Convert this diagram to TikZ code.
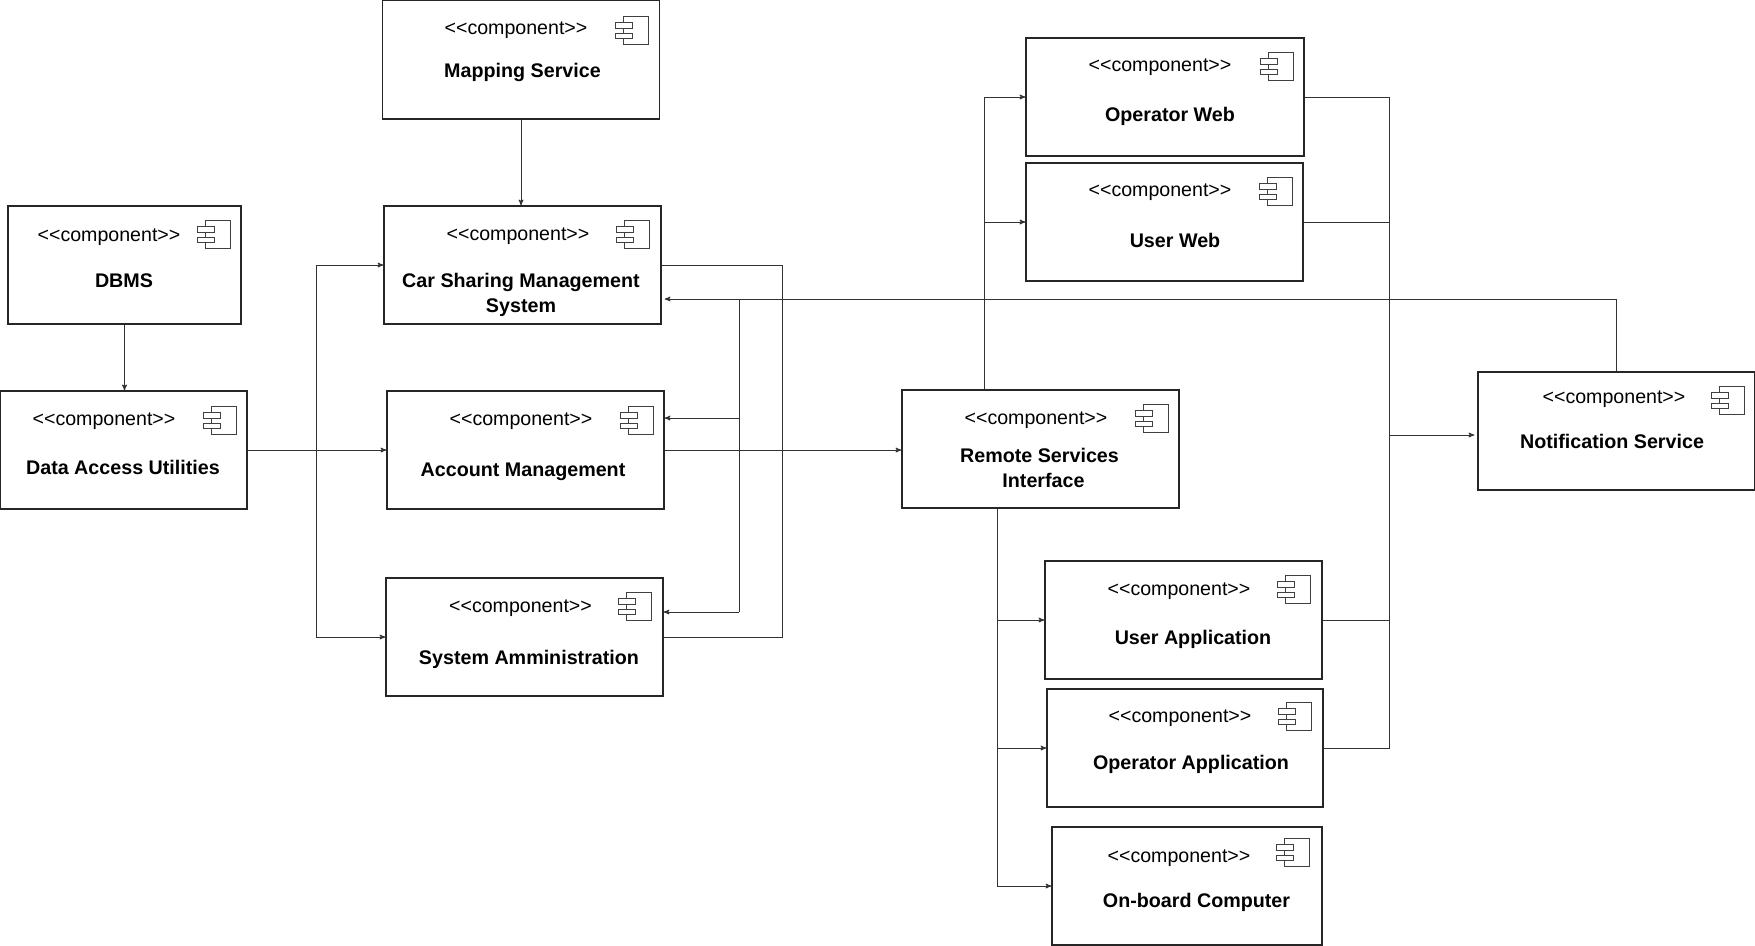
\documentclass[tikz,border=0pt]{standalone}
\usepackage{fontspec}
\setmainfont{Liberation Sans}
\usepackage{tikz}
\usetikzlibrary{arrows}
\newcommand{\stereo}{<\kern0pt<component>\kern0pt>}
\tikzset{compicon/.pic={
    \draw[black!75,line width=1pt] (-36,21) -- (-36,15) -- (-11,15) -- (-11,43) -- (-36,43) -- (-36,37);
    \draw[black!75,line width=1pt] (-36,27) -- (-36,32);
    \draw[black!75,line width=1pt] (-44,21) rectangle (-27,27);
    \draw[black!75,line width=1pt] (-44,32) rectangle (-27,37);
}}

\begin{document}
\begin{tikzpicture}[x=1pt,y=-1pt,>=stealth',semithick]
  \tikzstyle{place}=[rectangle,draw=black!85,fill=white,line width=1.5pt,inner sep=0pt,
                     minimum width=277pt,minimum height=118pt]
  \tikzstyle{stereotype}=[inner sep=0pt,font=\fontsize{19.6}{25}\selectfont]
  \tikzstyle{title}=[inner sep=0pt,align=center,font=\fontsize{19.7}{25}\selectfont\bfseries]
  \tikzstyle{link}=[->,draw=black!80,line width=1pt]
  \tikzstyle{bus}=[draw=black!80,line width=1pt]

  \useasboundingbox (0,0) rectangle (1755,945);

  \node[place,minimum height=119pt] (mapping) at (521,59.5) {};
  \node[stereotype] (mappingtype) at (516,30.5) {\stereo};
  \node[title] (mappingname) at (522.5,72) {Mapping Service};

  \node[place,minimum width=233pt] (dbms) at (124.5,265) {};
  \node[stereotype] (dbmstype) at (109,237.5) {\stereo};
  \node[title] (dbmsname) at (124,280.5) {DBMS};

  \node[place,minimum width=247pt] (data) at (123.5,450) {};
  \node[stereotype] (datatype) at (104,421.5) {\stereo};
  \node[title] (dataname) at (123,467) {Data Access Utilities};

  \node[place] (car) at (522.5,265) {};
  \node[stereotype] (cartype) at (518,236.5) {\stereo};
  \node[title] (carname) at (521,294.5) {Car Sharing Management\\System};

  \node[place] (account) at (525.5,450) {};
  \node[stereotype] (accounttype) at (521,421.5) {\stereo};
  \node[title] (accountname) at (523,472) {Account Management};

  \node[place] (sys) at (524.5,637) {};
  \node[stereotype] (systype) at (520.5,608.5) {\stereo};
  \node[title] (sysname) at (529,659) {System Amministration};

  \node[place] (remote) at (1040.5,449) {};
  \node[stereotype] (remotetype) at (1036,420.5) {\stereo};
  \node[title] (remotename) at (1039.5,467.5) {Remote Services\\\hspace{8pt}Interface};

  \node[place,minimum width=278pt] (opweb) at (1165,97) {};
  \node[stereotype] (opwebtype) at (1160,67.5) {\stereo};
  \node[title] (opwebname) at (1170,116) {Operator Web};

  \node[place] (userweb) at (1164.5,222) {};
  \node[stereotype] (userwebtype) at (1160,192.5) {\stereo};
  \node[title] (userwebname) at (1175,240) {User Web};

  \node[place] (userapp) at (1183.5,620) {};
  \node[stereotype] (userapptype) at (1179,591.5) {\stereo};
  \node[title] (userappname) at (1193,639) {User Application};

  \node[place,minimum width=276pt] (opapp) at (1185,748) {};
  \node[stereotype] (opapptype) at (1180,718.5) {\stereo};
  \node[title] (opappname) at (1191,764) {Operator Application};

  \node[place,minimum width=270pt] (onboard) at (1187,886) {};
  \node[stereotype] (onboardtype) at (1179,858.5) {\stereo};
  \node[title] (onboardname) at (1196.5,902) {On-board Computer};

  \node[place] (notif) at (1616.5,431) {};
  \node[stereotype] (notiftype) at (1614,399.5) {\stereo};
  \node[title] (notifname) at (1612,441.5) {Notification Service};

  \foreach \comp/\dx/\dy in {mapping/-1/2,dbms/0/0,data/0/1,car/-1/0,account/0/1,sys/-1/0,remote/0/0,
      opweb/0/0,userweb/0/0,userapp/-1/0,opapp/-1/-1,onboard/-2/-3,notif/0/0}
    \pic at ([shift={(\dx,\dy)}]\comp.north east) {compicon};

  \coordinate (busleft) at (316,450);
  \coordinate (busright) at (782,450);
  \coordinate (fbtop) at (739,299);
  \coordinate (fbacc) at (739,418);
  \coordinate (fbsys) at (739,612);
  \coordinate (upweb) at (984,222);
  \coordinate (downapp) at (997,620);
  \coordinate (downop) at (997,748);
  \coordinate (busnotif) at (1389,435);

  \draw[link] (mapping.south) -- (mapping.south |- car.north);
  \draw[link] (dbms.south) -- (dbms.south |- data.north);
  \draw[link] (data.east) -- (account.west);
  \draw[link] (busleft) |- (car.west);
  \draw[link] (busleft) |- (sys.west);
  \draw[bus] (car.east) -| (busright);
  \draw[bus] (sys.east) -| (busright);
  \draw[link] (account.east) -- (remote.west |- account.east);

  \draw[link,shorten >=3pt] (notif.north) |- (car.east |- fbtop);
  \draw[bus] (fbtop) -- (fbsys);
  \draw[link] (fbacc) -- (account.east |- fbacc);
  \draw[link] (fbsys) -- (sys.east |- fbsys);

  \draw[link] (remote.north -| upweb) |- (opweb.west);
  \draw[link] (upweb) -- (userweb.west);
  \draw[link] (remote.south -| downapp) |- (onboard.west);
  \draw[link] (downapp) -- (userapp.west);
  \draw[link] (downop) -- (opapp.west);

  \draw[bus] (opweb.east) -| (busnotif);
  \draw[bus] (userweb.east) -| (busnotif);
  \draw[bus] (userapp.east) -| (busnotif);
  \draw[bus] (opapp.east) -| (busnotif);
  \draw[link,shorten >=3pt] (busnotif) -- (notif.west |- busnotif);
\end{tikzpicture}
\end{document}
